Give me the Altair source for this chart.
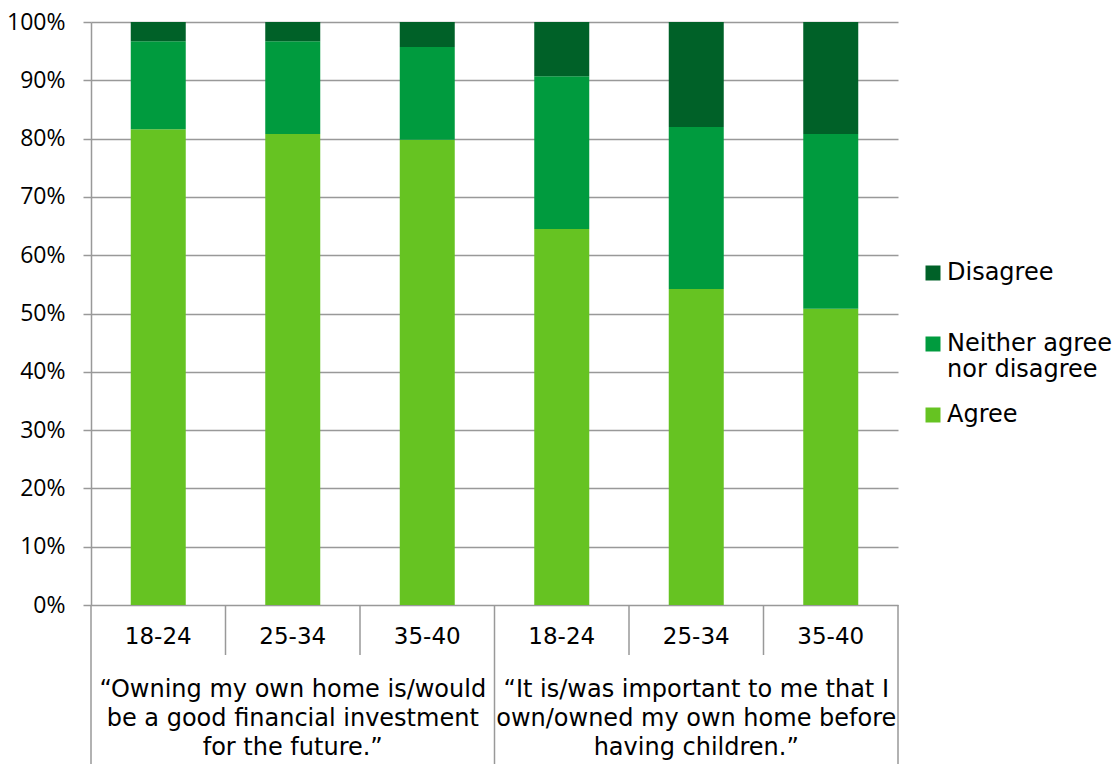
import altair as alt
import pandas as pd

ages = ["18-24", "25-34", "35-40", "18-24", "25-34", "35-40"]
groups = [
    "“Owning my own home is/would\nbe a good financial investment\nfor the future.”",
    "“It is/was important to me that I\nown/owned my own home before\nhaving children.”",
]
responses = ["Disagree", "Neither agree nor disagree", "Agree"]
agree = [81.6, 80.8, 79.8, 64.5, 54.2, 50.8]
neither = [15.1, 15.9, 15.9, 26.2, 27.8, 30.0]
disagree = [3.3, 3.3, 4.3, 9.3, 18.0, 19.2]
colors = ["#006128", "#009B3E", "#66C322"]

rows = []
for i in range(len(ages)):
    for resp, vals, order in [("Agree", agree, 0), ("Neither agree nor disagree", neither, 1), ("Disagree", disagree, 2)]:
        rows.append({"idx": i, "age": ages[i], "response": resp, "value": vals[i], "ord": order})
df = pd.DataFrame(rows)

age_df = pd.DataFrame({"idx": list(range(len(ages))), "age": ages})
group_df = pd.DataFrame({"gidx": [0, 1], "label": groups})
minor_df = pd.DataFrame({"b": [1, 2, 4, 5]})
major_df = pd.DataFrame({"b": [0, 3, 6]})

FONT = "DejaVu Sans"
xscale = alt.Scale(domain=[0, 6], nice=False, zero=False, padding=0)

bars = alt.Chart(df).transform_calculate(xc="datum.idx + 0.5").mark_bar(size=55).encode(
    x=alt.X("xc:Q", scale=xscale, axis=None),
    y=alt.Y("value:Q", stack="zero", scale=alt.Scale(domain=[0, 100], nice=False),
            axis=alt.Axis(values=list(range(0, 101, 10)), labelExpr="datum.value + '%'", title=None,
                          grid=True, gridColor="#999999", gridWidth=1.5,
                          tickColor="#999999", tickWidth=1.5, tickSize=8,
                          domainColor="#999999", domainWidth=1.5,
                          labelFont="Open Sans", labelFontSize=23, labelColor="#000000",
                          labelPadding=18)),
    color=alt.Color("response:N", scale=alt.Scale(domain=responses, range=colors),
                    legend=alt.Legend(orient="none", legendX=830, legendY=239, title=None,
                                      symbolType="square", symbolSize=225, symbolStrokeWidth=0,
                                      labelFont=FONT, labelFontSize=24, labelColor="#000000",
                                      labelOffset=2, rowPadding=21, labelLimit=300,
                                      columns=1, gridAlign="all",
                                      labelExpr="datum.label == 'Neither agree nor disagree' ? ['Neither agree', 'nor disagree'] : datum.label")),
    order=alt.Order("ord:Q", sort="ascending"),
)

minor = alt.Chart(minor_df).mark_rule(color="#999999", strokeWidth=1.5).encode(
    x=alt.X("b:Q", scale=xscale), y=alt.value(583), y2=alt.value(633))
major = alt.Chart(major_df).mark_rule(color="#999999", strokeWidth=1.5).encode(
    x=alt.X("b:Q", scale=xscale), y=alt.value(583), y2=alt.value(760))

age_text = alt.Chart(age_df).transform_calculate(xc="datum.idx + 0.5").mark_text(
    font=FONT, fontSize=23, color="#000000", baseline="middle", align="center").encode(
    x=alt.X("xc:Q", scale=xscale), y=alt.value(615), text="age:N")

group_text = alt.Chart(group_df).transform_calculate(xc="datum.gidx * 3 + 1.5").mark_text(
    font=FONT, fontSize=24, color="#000000", baseline="middle", align="center",
    lineBreak="\n", lineHeight=29).encode(
    x=alt.X("xc:Q", scale=xscale), y=alt.value(668), text="label:N")

chart = alt.layer(bars, minor, major, age_text, group_text).properties(
    width=807, height=583,
    background="#ffffff",
    autosize=alt.AutoSizeParams(type="none"),
    padding={"left": 91, "top": 22, "right": 218, "bottom": 159},
).configure_view(stroke="transparent", strokeWidth=0)

chart.save("out.html", embed_options={"renderer": "svg", "actions": False})
